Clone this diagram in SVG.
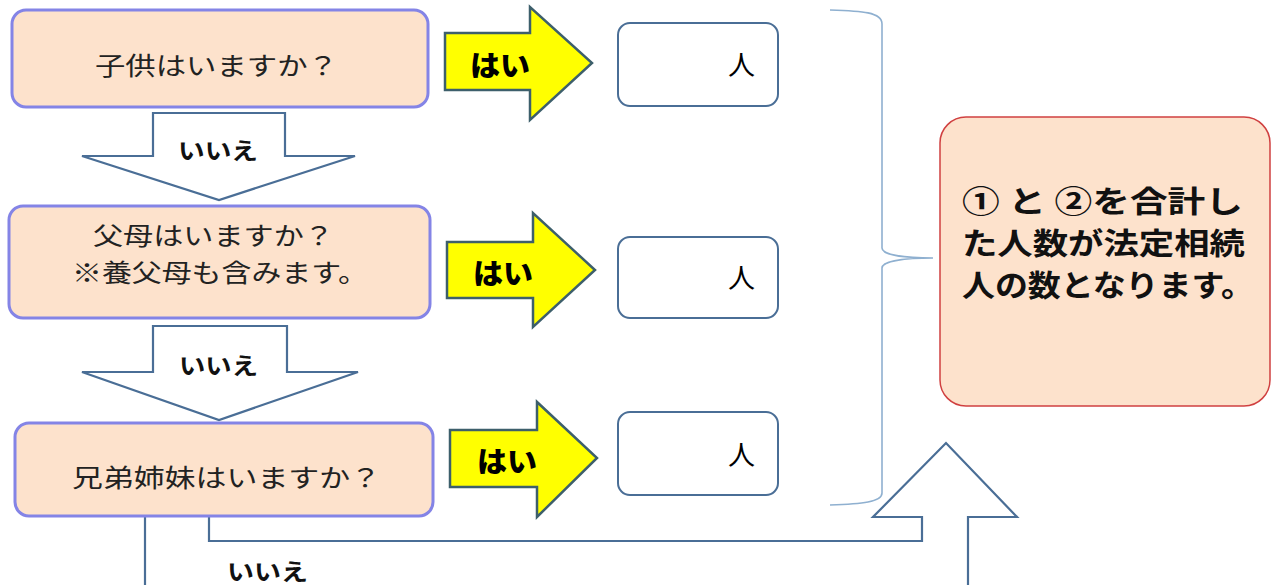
<svg xmlns="http://www.w3.org/2000/svg" width="1271" height="585" viewBox="0 0 1271 585">
<style>
.q{fill:#fde2cc;stroke:#8484e6;stroke-width:3}
.qt{font-family:"Noto Sans CJK JP","Noto Sans",sans-serif;font-size:25px;fill:#222;text-anchor:start}
.down{fill:#fff;stroke:#4a6e96;stroke-width:2.2;stroke-linejoin:miter}
.lbl{font-family:"Noto Sans CJK JP","Noto Sans",sans-serif;font-size:23px;font-weight:700;fill:#111}
.yes{fill:#ffff00;stroke:#3d5f6b;stroke-width:2.5;stroke-linejoin:miter}
.yt{font-family:"Noto Sans CJK JP","Noto Sans",sans-serif;font-size:28px;font-weight:900;fill:#000}
.box{fill:#fff;stroke:#4a6e96;stroke-width:2}
.nin{font-family:"Noto Sans CJK JP","Noto Sans",sans-serif;font-size:27px;fill:#000}
.brace{fill:none;stroke:#8fb0d0;stroke-width:1.6}
.res{fill:#fde2cc;stroke:#d04040;stroke-width:1.5}
.rt{font-family:"Noto Sans CJK JP","Noto Sans",sans-serif;font-size:30px;font-weight:700;fill:#111}
</style>
<rect width="1271" height="585" fill="#fff"/>
<g id="connectors">
  <path class="down" d="M153,113 L285,113 L285,156 L355,156 L219,200 L82,156 L153,156 Z"/>
  <text class="lbl" x="178" y="159" textLength="80" lengthAdjust="spacingAndGlyphs">いいえ</text>
  <path class="down" d="M153,326 L287,326 L287,372 L358,372 L219,420 L82,372 L153,372 Z"/>
  <text class="lbl" x="179" y="374" textLength="79" lengthAdjust="spacingAndGlyphs">いいえ</text>
  <path class="down" d="M145,517 L145,600 L968,600 L968,517 L1017,517 L946,443 L873,517 L922,517 L922,541 L209,541 L209,517"/>
  <text class="lbl" x="227" y="580" textLength="81" lengthAdjust="spacingAndGlyphs">いいえ</text>
  <path class="yes" d="M445,33 L530,33 L530,7 L592,63 L530,120 L530,90 L445,90 Z"/>
  <text class="yt" x="470" y="76" textLength="60" lengthAdjust="spacingAndGlyphs">はい</text>
  <path class="yes" d="M447,242 L533,242 L533,213 L595,270 L533,327 L533,298 L447,298 Z"/>
  <text class="yt" x="473" y="284" textLength="60" lengthAdjust="spacingAndGlyphs">はい</text>
  <path class="yes" d="M450,430 L537,430 L537,402 L597,458 L537,517 L537,487 L450,487 Z"/>
  <text class="yt" x="477" y="472" textLength="60" lengthAdjust="spacingAndGlyphs">はい</text>
  <path class="brace" d="M830,10 C862,11 882,12 882,24 L882,248 C882,255 905,258 933,258 C905,258 882,261 882,268 L882,493 C882,502 862,504 830,505"/>
</g>
<g id="q1">
  <rect class="q" x="12" y="10" width="416" height="97" rx="14"/>
  <text class="qt" x="95" y="75" textLength="243" lengthAdjust="spacingAndGlyphs">子供はいますか？</text>
</g>
<g id="q2">
  <rect class="q" x="9" y="206" width="421" height="112" rx="14"/>
  <text class="qt" x="93" y="245" textLength="241" lengthAdjust="spacingAndGlyphs">父母はいますか？</text>
  <text class="qt" x="72" y="282" textLength="296" lengthAdjust="spacingAndGlyphs">※養父母も含みます。</text>
</g>
<g id="q3">
  <rect class="q" x="15" y="423" width="418" height="93" rx="14"/>
  <text class="qt" x="72" y="487" textLength="309" lengthAdjust="spacingAndGlyphs">兄弟姉妹はいますか？</text>
</g>
<g id="a1">
  <rect class="box" x="618" y="23" width="160" height="83" rx="12"/>
  <text class="nin" x="728" y="75">人</text>
</g>
<g id="a2">
  <rect class="box" x="618" y="237" width="160" height="81" rx="12"/>
  <text class="nin" x="728" y="288">人</text>
</g>
<g id="a3">
  <rect class="box" x="618" y="412" width="160" height="83" rx="12"/>
  <text class="nin" x="728" y="465">人</text>
</g>
<g id="result">
  <rect class="res" x="940" y="117" width="330" height="289" rx="26"/>
  <text class="rt" x="962" y="212" textLength="281" lengthAdjust="spacingAndGlyphs">① と ②を合計し</text>
  <text class="rt" x="962" y="254" textLength="283" lengthAdjust="spacingAndGlyphs">た人数が法定相続</text>
  <text class="rt" x="962" y="296" textLength="292" lengthAdjust="spacingAndGlyphs">人の数となります。</text>
</g>
</svg>
